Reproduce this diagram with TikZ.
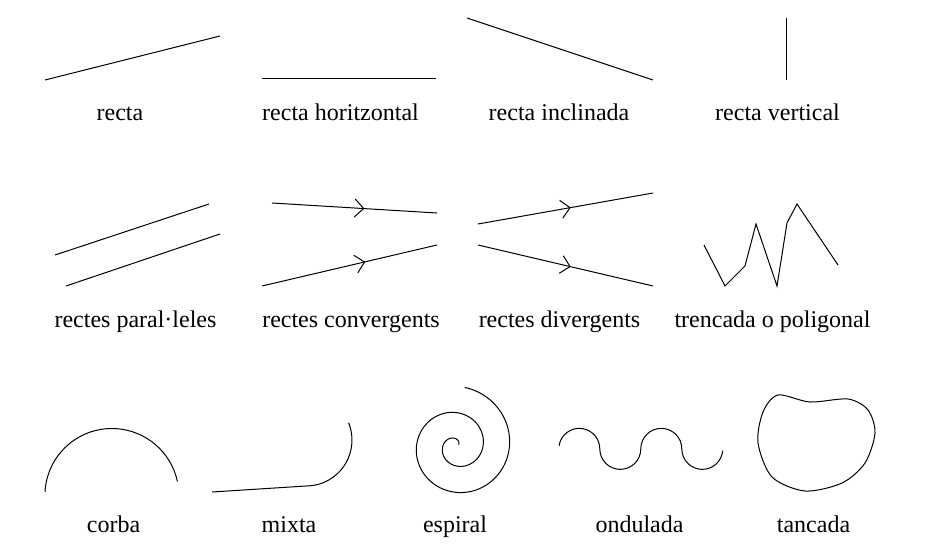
\documentclass[tikz,border=0pt]{standalone}
\usepackage{fontspec}
\setmainfont{Liberation Serif}
\usetikzlibrary{arrows.meta,decorations.markings}

\tikzset{
  linia/.style={line width=1pt},
  fletxa/.style={linia,postaction={decorate},
    decoration={markings,mark=at position #1 with {\arrow{Straight Barb[length=9pt,width=18pt,line width=1pt]}}}},
  etiqueta/.style={anchor=base,inner sep=0pt,font=\fontsize{24}{28}\selectfont}
}

\begin{document}
\begin{tikzpicture}[x=1pt,y=-1pt]
\useasboundingbox (0,0) rectangle (932,551);
% fila 1
\draw[linia] (45,80) -- (220,36);
\draw[linia] (262,79) -- (436,79);
\draw[linia] (467,18) -- (653,80);
\draw[linia] (786,18) -- (786,80);
\node[etiqueta] (recta) at (120,121) {recta};
\node[etiqueta] (horitz) at (340.5,121) {recta horitzontal};
\node[etiqueta] (inclin) at (559,121) {recta inclinada};
\node[etiqueta] (vert) at (777.5,121) {recta vertical};
% fila 2
\draw[linia] (55,255) -- (209,204);
\draw[linia] (66,286) -- (220,234);
\draw[fletxa=0.56] (272,203) -- (437,213);
\draw[fletxa=0.59] (262,286) -- (437,245);
\draw[fletxa=0.53] (478,224) -- (653,193);
\draw[fletxa=0.53] (478,245) -- (653,286);
\draw[linia] (704,245) -- (725,286) -- (745,266) -- (756,224) -- (777,286) -- (787,223) -- (797,204) -- (838,265);
\node[etiqueta] (parall) at (135.5,327) {rectes paral·leles};
\node[etiqueta] (conv) at (351,327) {rectes convergents};
\node[etiqueta] (div) at (559.5,327) {rectes divergents};
\node[etiqueta] (trenc) at (772.5,327) {trencada o poligonal};
% fila 3
\draw[linia] (45,492) arc[start angle=183,end angle=348,radius=67];
\draw[linia] (212,492) -- (306,486) arc[start angle=90,end angle=-22,radius=46];
\draw[linia] plot[domain=-60:712,samples=220,smooth] ({456.4+(6.9+0.0733*\x)*cos(90+\x)},{445.9-(6.9+0.0733*\x)*sin(90+\x)});
\draw[linia] (559,446) arc[start angle=188,end angle=360,radius=20.5]
  arc[start angle=180,end angle=0,radius=20.5]
  arc[start angle=180,end angle=360,radius=20.5]
  arc[start angle=180,end angle=5,radius=20.5];
\draw[linia] plot[smooth cycle] coordinates {(778,395) (810,402) (848,399) (868,410) (875,433) (865,463) (842,483) (805,491) (772,477) (758,443) (763,412)};
\node[etiqueta] (corba) at (113.5,532) {corba};
\node[etiqueta] (mixta) at (289,532) {mixta};
\node[etiqueta] (espiral) at (455,532) {espiral};
\node[etiqueta] (ondul) at (639.5,532) {ondulada};
\node[etiqueta] (tanc) at (813.5,532) {tancada};
\end{tikzpicture}
\end{document}
